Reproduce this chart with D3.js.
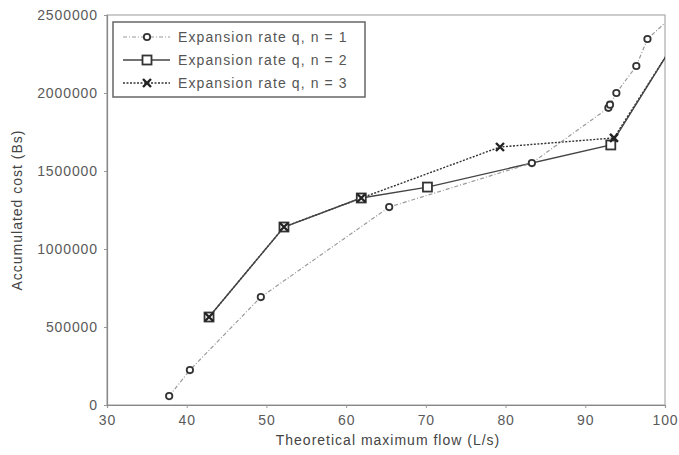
<!DOCTYPE html>
<html><head><meta charset="utf-8">
<script src="https://cdn.jsdelivr.net/npm/d3@7"></script>
<style>body{margin:0;background:#fff}text{font-family:"Liberation Sans",Arial,sans-serif}</style>
</head><body>
<svg id="chart" width="679" height="455"></svg>
<script>
// Data (x: theoretical maximum flow L/s, y: accumulated cost Bs)
const seriesNames = ["Expansion rate q, n = 1", "Expansion rate q, n = 2", "Expansion rate q, n = 3"];
const n1X = [37.8, 40.4, 49.3, 65.4, 83.3, 92.9, 93.1, 93.9, 96.4, 97.8, 101.5];
const n1Y = [57000, 224000, 692000, 1269000, 1551000, 1905000, 1925000, 2000000, 2173000, 2346000, 2520000];
const n2X = [42.8, 52.2, 61.9, 70.2, 93.2, 101.5];
const n2Y = [564000, 1141000, 1327000, 1397000, 1667000, 2348000];
const n3X = [42.8, 52.2, 61.9, 79.3, 93.6, 101.5];
const n3Y = [564000, 1141000, 1327000, 1654000, 1712000, 2348000];
const xTicks = [30, 40, 50, 60, 70, 80, 90, 100];
const yTicks = [0, 500000, 1000000, 1500000, 2000000, 2500000];

const svg = d3.select("#chart");
const L = 107, R = 665, T = 15, B = 405;
const x = d3.scaleLinear().domain([30, 100]).range([L, R]);
const y = d3.scaleLinear().domain([0, 2500000]).range([B, T]);

svg.append("defs").append("clipPath").attr("id", "clip")
  .append("rect").attr("x", L).attr("y", T).attr("width", R - L).attr("height", B - T);

// frame
svg.append("rect").attr("x", L).attr("y", T).attr("width", R - L).attr("height", B - T)
  .attr("fill", "none").attr("stroke", "#aaa").attr("stroke-width", 1.2);

const xa = svg.append("g").attr("transform", `translate(0,${B})`)
  .call(d3.axisBottom(x).tickValues(xTicks).tickSize(3).tickPadding(7).tickFormat(d3.format("d")));
const ya = svg.append("g").attr("transform", `translate(${L},0)`)
  .call(d3.axisLeft(y).tickValues(yTicks).tickSize(3).tickPadding(6).tickFormat(d3.format("d")));
[xa, ya].forEach(a => {
  a.select(".domain").attr("stroke", "#888").attr("stroke-width", 1.2);
  a.selectAll(".tick line").attr("stroke", "#999");
  a.selectAll(".tick text").attr("fill", "#5a5a5a").attr("font-size", 14).attr("letter-spacing", 0.9)
   .attr("font-family", "'Liberation Sans', Arial, sans-serif");
});

svg.append("text").attr("x", (L + R) / 2 + 2).attr("y", 445).attr("text-anchor", "middle")
  .attr("fill", "#444").attr("font-size", 14).attr("letter-spacing", 1).text("Theoretical maximum flow (L/s)");
svg.append("text").attr("transform", `translate(22,${(T + B) / 2}) rotate(-90)`)
  .attr("text-anchor", "middle").attr("fill", "#444").attr("font-size", 14).attr("letter-spacing", 1)
  .text("Accumulated cost (Bs)");

const styles = [
  {stroke: "#9a9a9a", width: 1.2, dash: "4,2,1,2", marker: "circle"},
  {stroke: "#444", width: 1.4, dash: null, marker: "square"},
  {stroke: "#333", width: 1.4, dash: "2,1.5", marker: "cross"}
];
const data = [
  n1X.map((v, i) => [v, n1Y[i]]),
  n2X.map((v, i) => [v, n2Y[i]]),
  n3X.map((v, i) => [v, n3Y[i]])
];
const line = d3.line().x(d => x(d[0])).y(d => y(d[1]));
const plot = svg.append("g").attr("clip-path", "url(#clip)");

function drawMarker(g, type, cx, cy) {
  if (type === "circle") {
    g.append("circle").attr("cx", cx).attr("cy", cy).attr("r", 3.2)
      .attr("fill", "#fff").attr("stroke", "#333").attr("stroke-width", 1.8);
  } else if (type === "square") {
    g.append("rect").attr("x", cx - 4.5).attr("y", cy - 4.5).attr("width", 9).attr("height", 9)
      .attr("fill", "#fff").attr("stroke", "#333").attr("stroke-width", 1.8);
  } else {
    const s = 4;
    g.append("path").attr("d", `M${cx - s},${cy - s}L${cx + s},${cy + s}M${cx - s},${cy + s}L${cx + s},${cy - s}`)
      .attr("stroke", "#222").attr("stroke-width", 2.4);
  }
}

[2, 1, 0].forEach(i => {
  plot.append("path").datum(data[i]).attr("d", line).attr("fill", "none")
    .attr("stroke", styles[i].stroke).attr("stroke-width", styles[i].width)
    .attr("stroke-dasharray", styles[i].dash);
});
[0, 1, 2].forEach(i => {
  const g = plot.append("g");
  data[i].forEach(d => drawMarker(g, styles[i].marker, x(d[0]), y(d[1])));
});

// legend
const lg = svg.append("g");
lg.append("rect").attr("x", 113).attr("y", 22).attr("width", 252).attr("height", 75)
  .attr("fill", "#fff").attr("stroke", "#666").attr("stroke-width", 1.5);
seriesNames.forEach((name, i) => {
  const yy = 37 + i * 23;
  lg.append("line").attr("x1", 123).attr("x2", 170).attr("y1", yy).attr("y2", yy)
    .attr("stroke", styles[i].stroke).attr("stroke-width", styles[i].width)
    .attr("stroke-dasharray", styles[i].dash);
  drawMarker(lg, styles[i].marker, 147, yy);
  lg.append("text").attr("x", 178).attr("y", yy + 5).attr("fill", "#555").attr("font-size", 14)
    .attr("letter-spacing", 1.1).text(name);
});
</script>
</body></html>
